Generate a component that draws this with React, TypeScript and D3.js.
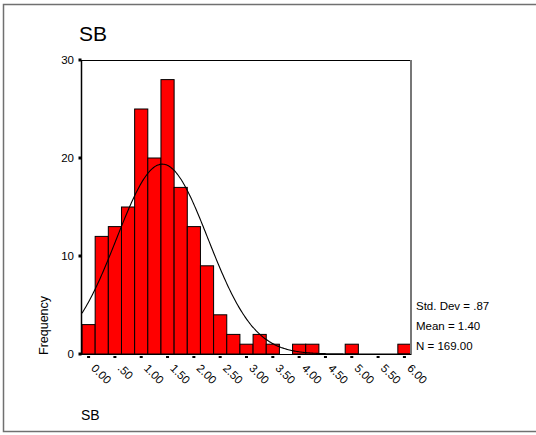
import React from "react";
import * as d3 from "d3";

const binCenters = [0, 0.25, 0.5, 0.75, 1.0, 1.25, 1.5, 1.75, 2.0, 2.25, 2.5, 2.75, 3.0, 3.25, 3.5, 3.75, 4.0, 4.25, 4.5, 4.75, 5.0, 5.25, 5.5, 5.75, 6.0];
const counts = [3, 12, 13, 15, 25, 20, 28, 17, 13, 9, 4, 2, 1, 2, 1, 0, 1, 1, 0, 0, 1, 0, 0, 0, 1];
const xTicks = [0, 0.5, 1.0, 1.5, 2.0, 2.5, 3.0, 3.5, 4.0, 4.5, 5.0, 5.5, 6.0];
const xTickLabels = ["0.00", ".50", "1.00", "1.50", "2.00", "2.50", "3.00", "3.50", "4.00", "4.50", "5.00", "5.50", "6.00"];
const yTicks = [0, 10, 20, 30];
const stats = ["Std. Dev = .87", "Mean = 1.40", "N = 169.00"];
const MEAN = 1.4;
const SD = 0.87;
const N = 169;
const BIN = 0.25;

const FONT = "Arial, 'Liberation Sans', sans-serif";

export default function App() {
  const x = d3.scaleLinear().domain([-0.125, 6.125]).range([82, 411]);
  const y = d3.scaleLinear().domain([0, 30]).range([354, 60]);

  const pdf = (v: number) =>
    (N * BIN) / (SD * Math.sqrt(2 * Math.PI)) * Math.exp(-0.5 * ((v - MEAN) / SD) ** 2);
  const curvePts = d3.range(-0.125, 6.126, 0.02).map((v) => [v, pdf(v)] as [number, number]);
  const line = d3
    .line<[number, number]>()
    .x((d) => x(d[0]))
    .y((d) => y(d[1]))
    .curve(d3.curveBasis);

  return (
    <svg
      width={536}
      height={435}
      style={{ position: "absolute", left: 0, top: 0, background: "#fff" }}
      fontFamily={FONT}
    >
      <rect x={3.5} y={4.5} width={540} height={427} fill="none" stroke="#707070" strokeWidth={1.5} />
      <text x={79} y={41} fontSize={21} fill="#000">SB</text>

      {/* bars */}
      {binCenters.map((c, i) =>
        counts[i] > 0 ? (
          <rect
            key={i}
            x={x(c - BIN / 2)}
            y={y(counts[i])}
            width={x(c + BIN / 2) - x(c - BIN / 2)}
            height={y(0) - y(counts[i])}
            fill="#ff0000"
            stroke="#000"
            strokeWidth={1}
          />
        ) : null
      )}

      {/* normal curve */}
      <path d={line(curvePts) || ""} fill="none" stroke="#000" strokeWidth={1.1} />

      {/* frame */}
      <line x1={82} y1={60.5} x2={411} y2={60.5} stroke="#000" strokeWidth={1} />
      <line x1={411} y1={60} x2={411} y2={355} stroke="#777" strokeWidth={2} />
      <line x1={82} y1={354.5} x2={411} y2={354.5} stroke="#000" strokeWidth={1} />
      <line x1={81.5} y1={60} x2={81.5} y2={355} stroke="#000" strokeWidth={1.5} />

      {/* y ticks */}
      {yTicks.map((t) => (
        <g key={t}>
          <rect x={78.5} y={y(t) - 1.5} width={3} height={3} fill="#000" />
          <text x={74} y={y(t) + 4} fontSize={11.5} textAnchor="end" fill="#000">
            {t}
          </text>
        </g>
      ))}

      {/* x ticks */}
      {xTicks.map((t, i) => (
        <g key={t}>
          <rect x={x(t) - 1.5} y={356} width={3} height={2} fill="#000" />
          <text
            transform={`translate(${x(t) + 2},369) rotate(45)`}
            fontSize={11.5}
            textAnchor="start"
            fill="#000"
          >
            {xTickLabels[i]}
          </text>
        </g>
      ))}

      <text transform="translate(48,355) rotate(-90)" fontSize={12.5} textAnchor="start" fill="#000">
        Frequency
      </text>
      <text x={81} y={420} fontSize={14} fill="#000">SB</text>

      {stats.map((s, i) => (
        <text key={s} x={416} y={310 + i * 20} fontSize={11.5} fill="#000">
          {s}
        </text>
      ))}
    </svg>
  );
}
